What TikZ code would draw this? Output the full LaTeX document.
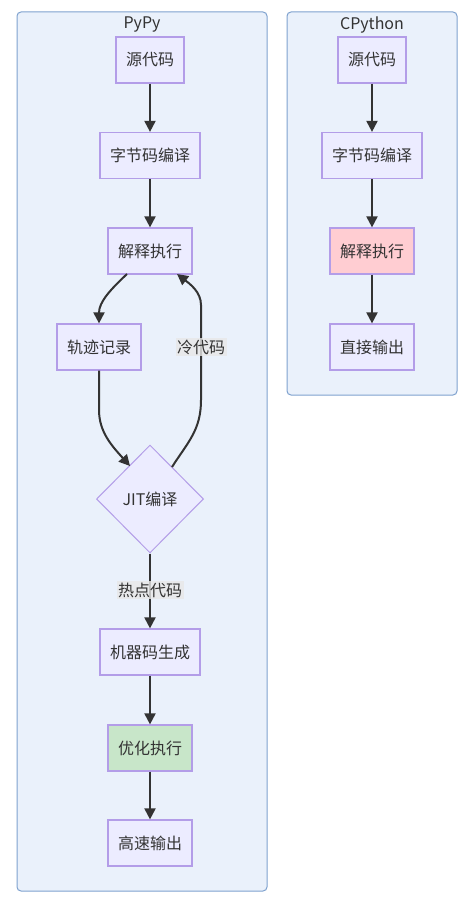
\documentclass[tikz,border=0pt]{standalone}
\usepackage{fontspec}
\setmainfont{Noto Sans CJK SC}
\usetikzlibrary{arrows.meta,shapes.geometric}
\definecolor{nodefill}{HTML}{ECECFF}
\definecolor{nodeline}{HTML}{B39DE8}
\definecolor{clusterfill}{HTML}{EAF1FB}
\definecolor{clusterline}{HTML}{7FA2CF}
\definecolor{edgecol}{HTML}{333333}
\definecolor{pinkfill}{HTML}{FFCDD2}
\definecolor{greenfill}{HTML}{C8E6C9}
\definecolor{labelfill}{HTML}{E8E8E8}
\definecolor{textcol}{HTML}{333333}
\tikzset{
  box/.style={draw=nodeline, fill=nodefill, line width=1.2pt, minimum height=46pt, inner sep=0pt, font=\fontsize{16}{19}\selectfont, text=textcol},
  dia/.style={draw=nodeline, fill=nodefill, line width=1pt, shape=diamond, minimum width=107pt, minimum height=108pt, inner sep=0pt, font=\fontsize{16}{19}\selectfont, text=textcol},
  cluster/.style={draw=clusterline, fill=clusterfill, line width=1pt, rounded corners=4pt},
  ctitle/.style={font=\fontsize{16}{19}\selectfont, text=textcol},
  edge/.style={draw=edgecol, line width=2pt, -{Triangle[length=11pt,width=11pt]}},
  elabel/.style={fill=labelfill, fill opacity=0.8, text opacity=1, font=\fontsize{16}{19}\selectfont, text=textcol, inner sep=1.5pt}
}
\begin{document}
\begin{tikzpicture}[x=1pt,y=-1pt]
\useasboundingbox (0,0) rectangle (474,909);
\fill[white] (0,0) rectangle (474,909);
% clusters
\draw[cluster] (17,12) rectangle (267,891);
\node[ctitle] (tpypy) at (142,25) {PyPy};
\draw[cluster] (287,12) rectangle (457,395);
\node[ctitle] (tcpy) at (372,25) {CPython};
% PyPy nodes
\node[box, minimum width=68pt] (p1) at (150,60) {源代码};
\node[box, minimum width=100pt] (p2) at (150,155.5) {字节码编译};
\node[box, minimum width=84pt] (p3) at (150,251) {解释执行};
\node[box, minimum width=84pt] (p4) at (99,347) {轨迹记录};
\node[dia] (p5) at (150,499) {JIT编译};
\node[box, minimum width=100pt] (p6) at (150,652) {机器码生成};
\node[box, minimum width=84pt, fill=greenfill] (p7) at (150,748) {优化执行};
\node[box, minimum width=84pt] (p8) at (150,843) {高速输出};
% CPython nodes
\node[box, minimum width=68pt] (c1) at (372,60) {源代码};
\node[box, minimum width=100pt] (c2) at (372,155.5) {字节码编译};
\node[box, minimum width=84pt, fill=pinkfill] (c3) at (372,251) {解释执行};
\node[box, minimum width=84pt] (c4) at (372,347) {直接输出};
% coordinates for curves
\coordinate (a1) at (127,274);
\coordinate (a3) at (130,466);
\coordinate (a4) at (172,467);
\coordinate (a5) at (177,274);
% edges
\draw[edge] (p1) -- (p2);
\draw[edge] (p2) -- (p3);
\draw[edge] (a1) .. controls (110,290) and (99,302) .. (p4.north);
\draw[edge] (p4.south) -- (99,410) .. controls (99,432) and (112,446) .. (a3);
\draw[edge] (a4) .. controls (188,442) and (201,430) .. (201,400) -- (201,305) .. controls (201,292) and (190,284) .. (a5);
\node[elabel] (l1) at (201,347) {冷代码};
\draw[edge] (p5.south) -- (p6.north);
\node[elabel] (l2) at (150,590) {热点代码};
\draw[edge] (p6) -- (p7);
\draw[edge] (p7) -- (p8);
\draw[edge] (c1) -- (c2);
\draw[edge] (c2) -- (c3);
\draw[edge] (c3) -- (c4);
\end{tikzpicture}
\end{document}
